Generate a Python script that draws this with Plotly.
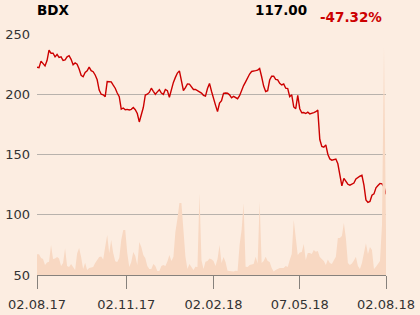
import plotly.graph_objects as go

ticker = "BDX"
last_price = "117.00"
change_pct = "-47.32%"

price = [222.4, 222, 227.5, 225, 223.5, 228, 236.7, 234, 234, 231,
         233, 230.5, 231, 228, 228.5, 231, 232, 229, 224.5, 226,
         225, 221, 215.7, 214.5, 218, 219.4, 222.5, 219.6, 218.7, 216,
         212, 203.5, 200, 199.5, 198, 210.5, 210.5, 210.3, 207.5, 205,
         201, 198, 187.7, 188.6, 187.1, 187.4, 187, 187.5, 189, 187.2,
         184, 177, 183, 189, 199.4, 200, 201.5, 205, 202.4, 200,
         202, 203.8, 201, 199.9, 204, 203, 197.5, 205, 209.8, 214,
         217.6, 219.4, 210, 203.1, 205.5, 208.5, 208.4, 206.6, 204, 204,
         203.1, 202.4, 201, 199.1, 198.5, 204.8, 209, 202.5, 196, 191,
         185.6, 192.6, 194.7, 200.7, 201, 200.8, 199.5, 197, 198.2, 197.4,
         196.3, 198.8, 203.8, 207.2, 210.3, 213.7, 216.8, 218.9, 219.5, 219.6,
         220, 221.3, 214.5, 206.8, 202.3, 203, 211.8, 215, 215, 212.4,
         212, 209, 207.7, 208.5, 205, 204.7, 198, 199.5, 189.5, 188,
         199, 188, 184.6, 184.8, 184, 185.1, 183.7, 184.6, 184.8, 185.5,
         186.8, 162.4, 156.7, 156, 158, 150.2, 146.3, 145.3, 145.6, 146.2,
         142.3, 133, 124, 130.2, 127.8, 125.3, 124.5, 125.1, 126.3, 129.7,
         131.1, 132, 132.7, 124.6, 112.3, 110.2, 111, 116.2, 117.3, 122.4,
         124.2, 126, 125.7, 123.1, 117]

volume = [20.7, 20.7, 17, 16, 10, 12.5, 13.3, 30, 16, 16.5,
          18, 16.5, 9, 12, 26.7, 9, 8, 11, 8, 5,
          21.5, 27, 18, 6, 12.3, 5, 7, 7.5, 8, 12,
          15.5, 18, 18.5, 15.5, 28.3, 40, 22, 35, 22, 13.7,
          13, 17, 35, 45, 45, 22, 8, 13, 23, 19,
          10, 33, 28, 20, 16.7, 9, 6, 6, 11, 9,
          4, 4, 9, 10, 9, 13.5, 20, 14, 18, 43.3,
          56, 72, 72, 40, 18.3, 6, 11, 8, 5, 8.3,
          8, 81.7, 15, 6, 13.3, 14, 16.5, 15.7, 14, 9,
          16, 30, 12, 18, 13, 4.3, 4, 4, 3.5, 4.3,
          4, 30, 45, 71.7, 8.3, 8, 10, 10.5, 11, 18.3,
          11.5, 73.3, 12, 14, 18.3, 14, 13, 7, 3.5, 5,
          6, 7, 7, 7, 9, 8, 15, 21, 55, 35,
          20, 22.5, 23, 31, 15, 22, 22, 21, 25, 23.3,
          24, 18, 16, 14, 10, 15.5, 12, 11, 14.7, 18.3,
          37, 37, 39, 52, 36.7, 12, 10, 11.5, 14.5, 18.3,
          9, 6, 12, 22, 31.7, 21, 28, 25, 6, 8.3,
          11, 14, 50, 228, 45]

tick_pos = [0, 44.5, 88, 131, 174]
tick_text = ["02.08.17", "02.11.17", "02.02.18", "07.05.18", "02.08.18"]
y_ticks = [50, 100, 150, 200, 250]

idx = list(range(len(price)))

BG = "#fcede1"
RED = "#cc0000"
FONT = "DejaVu Sans"

fig = go.Figure()
fig.add_trace(go.Scatter(
    x=idx, y=volume, yaxis="y2", mode="lines", fill="tozeroy",
    line=dict(width=0, color="#f8d8c2"), fillcolor="#f8d8c2",
    hoverinfo="skip", showlegend=False))
fig.add_trace(go.Scatter(
    x=idx, y=price, mode="lines",
    line=dict(width=1.4, color=RED), showlegend=False))

fig.update_layout(
    width=420, height=315,
    margin=dict(l=37, r=34, t=34, b=40),
    paper_bgcolor=BG, plot_bgcolor=BG,
    font=dict(family=FONT, size=13, color="#333333"),
    xaxis=dict(range=[0, len(price) - 1], tickmode="array",
               tickvals=tick_pos, ticktext=tick_text,
               showgrid=False, zeroline=False, automargin=False,
               showline=True, linecolor="#86817c", linewidth=1,
               ticks="outside", ticklen=13, tickcolor="#86817c", tickwidth=1,
               ticklabelstandoff=4,
               tickfont=dict(size=13, color="#333333")),
    yaxis=dict(range=[50, 250], tickmode="array", tickvals=y_ticks,
               showgrid=True, gridcolor="#b8b2ac", gridwidth=1,
               zeroline=False, showline=False, ticks="", automargin=False,
               ticklabelstandoff=6,
               tickfont=dict(size=13, color="#333333")),
    yaxis2=dict(range=[0, 241], overlaying="y", visible=False),
    annotations=[
        dict(text="<b>" + ticker + "</b>", xref="paper", yref="paper",
             x=0, y=1, xanchor="left", yanchor="middle", yshift=24, xshift=-2,
             showarrow=False, font=dict(size=13.5, color="#000000", family=FONT)),
        dict(text="<b>" + last_price + "</b>", xref="paper", yref="paper",
             x=0.774, y=1, xanchor="right", yanchor="middle", yshift=24.5, xshift=2,
             showarrow=False, font=dict(size=13.5, color="#000000", family=FONT)),
        dict(text="<b>" + change_pct + "</b>", xref="paper", yref="paper",
             x=0.9885, y=1, xanchor="right", yanchor="middle", yshift=17.5, xshift=2,
             showarrow=False, font=dict(size=13.5, color=RED, family=FONT)),
    ],
)

fig.write_html("out.html")
